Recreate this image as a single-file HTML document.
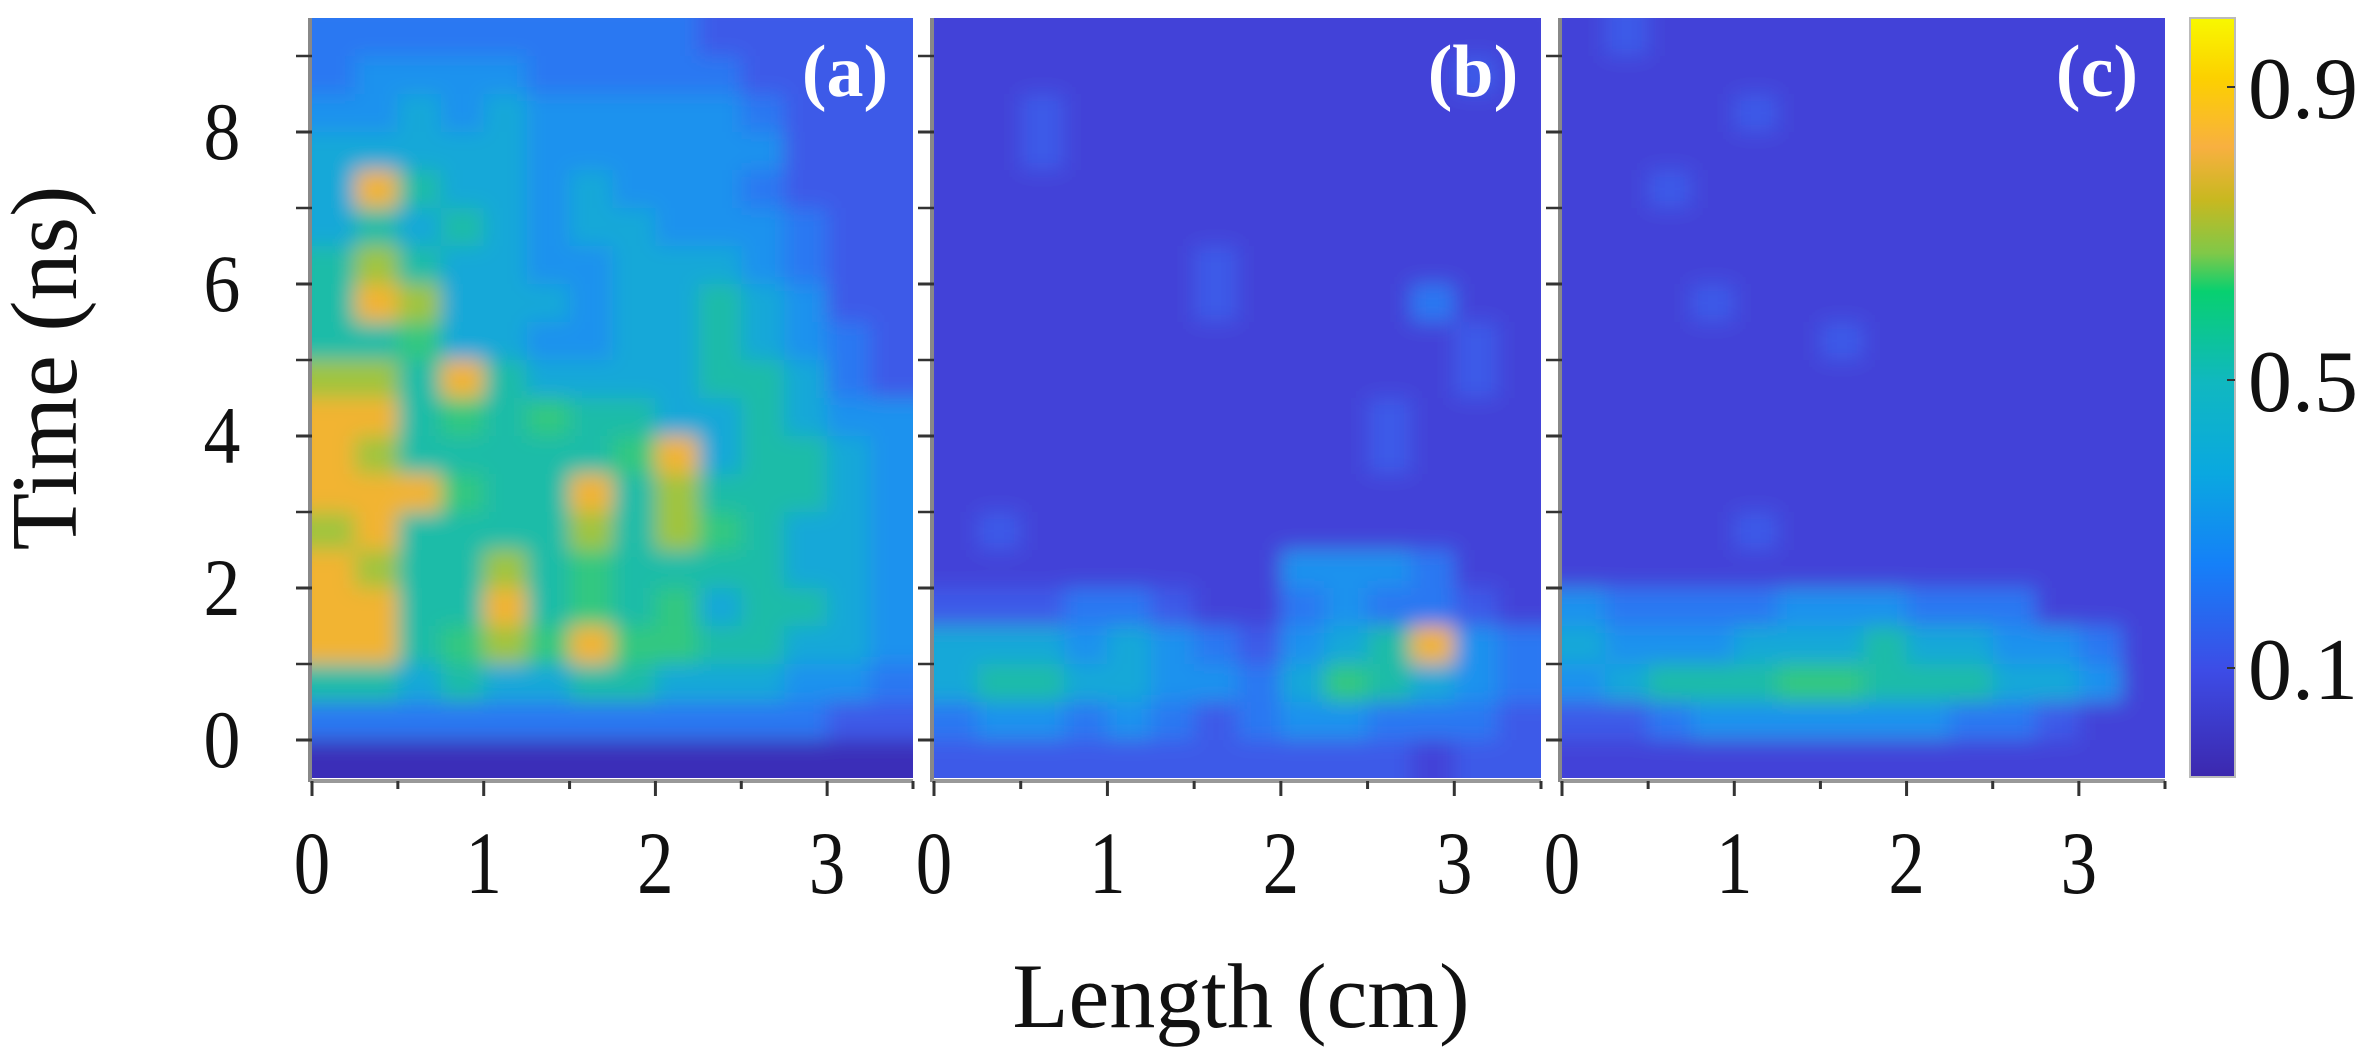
<!DOCTYPE html>
<html><head><meta charset="utf-8"><style>
html,body{margin:0;padding:0;background:#fff;}
svg{display:block;font-family:"Liberation Serif",serif;}
</style></head><body>
<svg id="chart" width="2380" height="1062" viewBox="0 0 2380 1062" xmlns="http://www.w3.org/2000/svg">
<defs>
<filter id="blur" x="-5%" y="-5%" width="110%" height="110%"><feGaussianBlur stdDeviation="10"/></filter>
<clipPath id="clipa"><rect x="312" y="18" width="601" height="760"/></clipPath>
<clipPath id="clipb"><rect x="934" y="18" width="607" height="760"/></clipPath>
<clipPath id="clipc"><rect x="1562" y="18" width="603" height="760"/></clipPath>
<linearGradient id="cbgrad" x1="0" y1="1" x2="0" y2="0">
<stop offset="0" stop-color="#3c28ae"/>
<stop offset="0.14" stop-color="#3d4ce6"/>
<stop offset="0.28" stop-color="#1580f8"/>
<stop offset="0.40" stop-color="#0aa8e0"/>
<stop offset="0.52" stop-color="#10b8c0"/>
<stop offset="0.64" stop-color="#08d070"/>
<stop offset="0.69" stop-color="#80c848"/>
<stop offset="0.76" stop-color="#c8b820"/>
<stop offset="0.83" stop-color="#f8b040"/>
<stop offset="0.92" stop-color="#fcd000"/>
<stop offset="1" stop-color="#f8f800"/>
</linearGradient>
</defs>
<g id="panels"></g>
<g id="axes"></g>
<rect x="2190" y="18" width="45" height="759" fill="url(#cbgrad)" stroke="#bbb" stroke-width="2"/>
<g stroke="#333" stroke-width="2">
<line x1="2227" y1="87" x2="2235" y2="87"/><line x1="2227" y1="380" x2="2235" y2="380"/><line x1="2227" y1="668" x2="2235" y2="668"/>
</g>
<g font-size="88" fill="#111">
<text x="2248" y="118">0.9</text>
<text x="2248" y="411">0.5</text>
<text x="2248" y="699">0.1</text>
</g>
<text font-size="94" fill="#111" text-anchor="middle" transform="translate(76,368) rotate(-90)">Time (ns)</text>
<text font-size="92" fill="#111" text-anchor="middle" x="1241" y="1027">Length (cm)</text>
</svg>
<script>
const categoriesX = [0,0.25,0.5,0.75,1,1.25,1.5,1.75,2,2.25,2.5,2.75,3,3.25];
const rowTops = [9.5,9,8.5,8,7.5,7,6.5,6,5.5,5,4.5,4,3.5,3,2.5,2,1.5,1,0.5,0];
const xTicks = [0,1,2,3];
const yTicks = [0,2,4,6,8];
const panelLabels = ["(a)","(b)","(c)"];
const palette = ["#3a2fb8","#4343d8","#3d5ae8","#2b78f2","#1a92ee","#14a8d8","#1cbca8","#30c880","#a0c43c","#f2b430"];
const valuesA = [
"33333333322222","34444333332222","44545444443222","55555444444222","59655454443222",
"56565455444322","68655445554322","69855545565422","66755445565432","88696555566532",
"99676766556544","98666667956654","99976696866654","89666686876554","98668676666554",
"99669676756654","99678797766554","66565566555443","33333333333322","00000000000000"];
const valuesB = [
"11111111111111","11111111111121","11211111111111","11211111111111","11111111111111",
"11111111111111","11111121111111","11111121111311","11111111111121","11111111111121",
"11111111112111","11111111112111","11111111111111","12111111111111","11111111444311",
"22233211343321","55545432456943","56655443576543","34434323443332","22222222222122"];
const valuesC = [
"12111111111111","11111111111111","11112111111111","11111111111111","11211111111111",
"11111111111111","11111111111111","11121111111111","11111121111111","11111111111111",
"11111111111111","11111111111111","11111111111111","11112111111111","11111111111111",
"43333444333111","54445556554431","45666776665541","22344444433211","11111111111111"];
const panelsData = [valuesA, valuesB, valuesC];
const panelGeom = [{x0:312,x1:913},{x0:934,x1:1541},{x0:1562,x1:2165}];
const Y0 = 18, Y1 = 778, TMIN = -0.5, TMAX = 9.5, XMAX = 3.5;
const NS = "http://www.w3.org/2000/svg";
function yScale(t){ return Y1 - (t - TMIN) / (TMAX - TMIN) * (Y1 - Y0); }
function xScale(p, v){ return p.x0 + v / XMAX * (p.x1 - p.x0); }
const panels = document.getElementById('panels');
const axes = document.getElementById('axes');
const ids = ['a','b','c'];
panelsData.forEach((vals, pi) => {
  const p = panelGeom[pi];
  const clipG = document.createElementNS(NS,'g');
  clipG.setAttribute('clip-path','url(#clip'+ids[pi]+')');
  
  
  const bg = document.createElementNS(NS,'rect');
  bg.setAttribute('x',p.x0); bg.setAttribute('y',Y0); bg.setAttribute('width',p.x1-p.x0); bg.setAttribute('height',Y1-Y0);
  bg.setAttribute('fill',palette[1]);
  clipG.appendChild(bg);
  const g = document.createElementNS(NS,'g');
  g.setAttribute('filter','url(#blur)');
  vals.forEach((row, ri) => {
    for (let ci = 0; ci < categoriesX.length; ci++) {
      const v = +row[ci];
      const r = document.createElementNS(NS,'rect');
      const xa = xScale(p, categoriesX[ci]) - (ci===0?20:0);
      const xb = xScale(p, categoriesX[ci] + 0.25) + (ci===categoriesX.length-1?20:0);
      const ya = yScale(rowTops[ri]) - (ri===0?20:0);
      const yb = yScale(rowTops[ri] - 0.5) + (ri===rowTops.length-1?20:0);
      r.setAttribute('x', xa); r.setAttribute('y', ya);
      r.setAttribute('width', xb - xa + 0.5); r.setAttribute('height', yb - ya + 0.5);
      r.setAttribute('fill', palette[v]);
      
      
      g.appendChild(r);
    }
  });
  clipG.appendChild(g);
  panels.appendChild(clipG);
  const ax = document.createElementNS(NS,'g');
  
  
  let s = '';
  s += `<line x1="${p.x0-2}" y1="${Y0}" x2="${p.x0-2}" y2="${Y1+4}" stroke="#888" stroke-width="4"/>`;
  s += `<line x1="${p.x0-2}" y1="${Y1+3}" x2="${p.x1}" y2="${Y1+3}" stroke="#999" stroke-width="4"/>`;
  for (let t = 0; t <= 9; t++) {
    const y = yScale(t);
    s += `<line x1="${p.x0-16}" y1="${y}" x2="${p.x0}" y2="${y}" stroke="#333" stroke-width="${t%2===0?3:2.5}"/>`;
  }
  for (let v = 0; v <= 3.5; v += 0.5) {
    const x = xScale(p, v);
    s += `<line x1="${x}" y1="${Y1+3}" x2="${x}" y2="${Y1+(v%1===0?18:11)}" stroke="#333" stroke-width="3"/>`;
  }
  ax.innerHTML = s;
  axes.appendChild(ax);
  xTicks.forEach(v => {
    const t = document.createElementNS(NS,'text');
    t.setAttribute('x', 0); t.setAttribute('y', 0);
    t.setAttribute('transform', `translate(${xScale(p,v)},893) scale(0.82,1)`);
    t.setAttribute('text-anchor','middle'); t.setAttribute('font-size','89'); t.setAttribute('fill','#111');
    t.textContent = v;
    
    
    axes.appendChild(t);
  });
  const lab = document.createElementNS(NS,'text');
  lab.setAttribute('x', p.x1 - 68); lab.setAttribute('y', 96);
  lab.setAttribute('text-anchor','middle'); lab.setAttribute('font-size','74'); lab.setAttribute('font-weight','bold'); lab.setAttribute('fill','#fff');
  lab.textContent = panelLabels[pi];
  
  
  axes.appendChild(lab);
});
yTicks.forEach(v => {
  const t = document.createElementNS(NS,'text');
  t.setAttribute('x', 0); t.setAttribute('y', 0);
  t.setAttribute('transform', `translate(222,${yScale(v)+27}) scale(0.9,1)`);
  t.setAttribute('text-anchor','middle'); t.setAttribute('font-size','82'); t.setAttribute('fill','#111');
  t.textContent = v;
  
  
  axes.appendChild(t);
});
</script>
</body></html>
